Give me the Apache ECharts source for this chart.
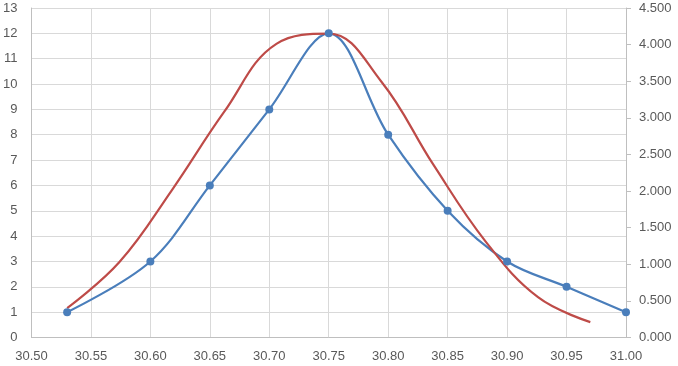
<!DOCTYPE html>
<html>
<head>
<meta charset="utf-8">
<script src="https://cdn.jsdelivr.net/npm/echarts@6/dist/echarts.min.js"></script>
<style>
html,body{margin:0;padding:0;background:#fff;}
#chart{width:678px;height:366px;}
</style>
</head>
<body>
<div id="chart"></div>
<script>
// Blue series (left axis): measured counts
var blueX = [30.53, 30.60, 30.65, 30.70, 30.75, 30.80, 30.85, 30.90, 30.95, 31.00];
var blueY = [1, 3, 6, 9, 12, 8, 5, 3, 2, 1];
// Red series (right axis): fitted curve values
var redX = [30.53, 30.574, 30.618, 30.662, 30.706, 30.75, 30.794, 30.838, 30.882, 30.926, 30.97];
var redY = [0.40, 1.03, 2.01, 3.08, 4.01, 4.15, 3.50, 2.36, 1.31, 0.55, 0.21];
// Axis ranges
var xRange = [30.50, 31.00, 0.05];
var leftRange = [0, 13, 1];
var rightRange = [0, 4.5, 0.5];

function pairs(xs, ys){ return xs.map(function(x,i){ return [x, ys[i]]; }); }

var labelStyle = {color:'#595959', fontFamily:'Liberation Sans, Arial, sans-serif', fontSize:13};
var chart = echarts.init(document.getElementById('chart'), null, {renderer:'canvas'});
chart.setOption({
  animation:false,
  backgroundColor:'#ffffff',
  grid:{left:31, right:52, top:8, bottom:28.5, containLabel:false},
  xAxis:{
    type:'value', min:xRange[0], max:xRange[1], interval:xRange[2],
    axisLine:{show:true, lineStyle:{color:'#bfbfbf', width:1}},
    axisTick:{show:false},
    axisLabel:Object.assign({margin:12, formatter:function(v){return v.toFixed(2);}}, labelStyle),
    splitLine:{show:true, lineStyle:{color:'#d9d9d9', width:1}}
  },
  yAxis:[{
    type:'value', min:leftRange[0], max:leftRange[1], interval:leftRange[2],
    axisLine:{show:true, lineStyle:{color:'#bfbfbf', width:1}},
    axisTick:{show:false},
    axisLabel:Object.assign({margin:14}, labelStyle),
    splitLine:{show:true, lineStyle:{color:'#d9d9d9', width:1}}
  },{
    type:'value', position:'right', min:rightRange[0], max:rightRange[1], interval:rightRange[2],
    axisLine:{show:true, lineStyle:{color:'#bfbfbf', width:1}},
    axisTick:{show:true, length:5, lineStyle:{color:'#bfbfbf'}},
    axisLabel:Object.assign({margin:13, formatter:function(v){return v.toFixed(3);}}, labelStyle),
    splitLine:{show:false}
  }],
  series:[{
    type:'line', yAxisIndex:0, data:pairs(blueX, blueY), smooth:0.35,
    symbol:'circle', symbolSize:8,
    itemStyle:{color:'#4a7ebb'},
    lineStyle:{color:'#4a7ebb', width:2.2}
  },{
    type:'line', yAxisIndex:1, data:pairs(redX, redY), smooth:0.4,
    symbol:'none',
    lineStyle:{color:'#be4b48', width:2.2}
  }]
});
</script>
</body>
</html>
